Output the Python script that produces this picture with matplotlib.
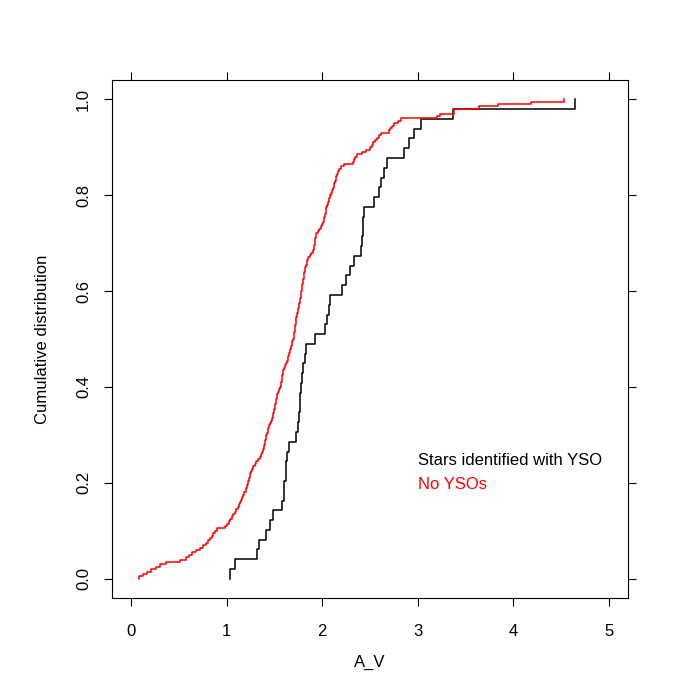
import matplotlib
matplotlib.use('Agg')
import matplotlib.pyplot as plt
import numpy as np

plt.rcParams['font.family'] = ['Liberation Sans', 'DejaVu Sans']

# sorted A_V values, stars identified with a YSO
yso_av = [1.03, 1.09, 1.32, 1.34, 1.41, 1.45, 1.48, 1.58, 1.60, 1.60,
          1.62, 1.62, 1.63, 1.65, 1.73, 1.75, 1.76, 1.77, 1.77, 1.78,
          1.79, 1.80, 1.82, 1.83, 1.92, 2.03, 2.05, 2.07, 2.08, 2.21,
          2.25, 2.29, 2.33, 2.41, 2.42, 2.43, 2.43, 2.44, 2.54, 2.59,
          2.62, 2.65, 2.675, 2.86, 2.91, 2.96, 3.03, 3.37, 4.65]

# sorted A_V values, no YSOs
noyso_av = [0.08, 0.12, 0.17, 0.21, 0.26, 0.30, 0.36, 0.51, 0.57, 0.61,
            0.64, 0.68, 0.72, 0.755, 0.78, 0.80, 0.83, 0.845, 0.86, 0.88,
            0.90, 0.985, 1.00, 1.02, 1.04, 1.06, 1.07, 1.09, 1.10, 1.115,
            1.13, 1.14, 1.15, 1.16, 1.175, 1.185, 1.20, 1.205, 1.21, 1.22,
            1.225, 1.23, 1.24, 1.245, 1.255, 1.27, 1.28, 1.295, 1.31, 1.33,
            1.35, 1.36, 1.375, 1.385, 1.39, 1.395, 1.40, 1.405, 1.41, 1.415,
            1.42, 1.43, 1.435, 1.44, 1.45, 1.46, 1.47, 1.48, 1.49, 1.495,
            1.50, 1.505, 1.51, 1.515, 1.52, 1.525, 1.53, 1.54, 1.55, 1.56,
            1.565, 1.57, 1.575, 1.58, 1.58, 1.585, 1.59, 1.60, 1.61, 1.62,
            1.63, 1.64, 1.645, 1.65, 1.66, 1.665, 1.67, 1.68, 1.685, 1.69,
            1.70, 1.705, 1.71, 1.715, 1.72, 1.72, 1.725, 1.73, 1.73, 1.735,
            1.74, 1.745, 1.75, 1.755, 1.76, 1.765, 1.77, 1.775, 1.775, 1.78,
            1.785, 1.785, 1.79, 1.795, 1.80, 1.805, 1.81, 1.81, 1.815, 1.82,
            1.83, 1.84, 1.845, 1.855, 1.87, 1.885, 1.90, 1.91, 1.915, 1.92,
            1.925, 1.93, 1.935, 1.94, 1.955, 1.97, 1.985, 1.995, 2.005, 2.015,
            2.02, 2.03, 2.035, 2.04, 2.045, 2.055, 2.06, 2.07, 2.075, 2.085,
            2.09, 2.10, 2.11, 2.12, 2.125, 2.13, 2.14, 2.145, 2.155, 2.17,
            2.18, 2.20, 2.225, 2.325, 2.335, 2.345, 2.36, 2.415, 2.46, 2.50,
            2.52, 2.535, 2.55, 2.57, 2.59, 2.615, 2.695, 2.71, 2.73, 2.755,
            2.79, 2.83, 3.20, 3.23, 3.38, 3.38, 3.64, 3.84, 4.19, 4.53]

labels = ['Stars identified with YSO', 'No YSOs']
colors = ['black', 'red']


def ecdf_steps(vals):
    xs = np.sort(np.asarray(vals))
    n = len(xs)
    x = np.concatenate([[xs[0]], xs])
    y = np.concatenate([[0.0], np.arange(1, n + 1) / n])
    return x, y


fig = plt.figure(figsize=(7, 7), dpi=100)
ax = fig.add_axes([0.16, 0.1457, 0.737, 0.74])

for vals, col in zip([yso_av, noyso_av], colors):
    x, y = ecdf_steps(vals)
    ax.plot(x, y, drawstyle='steps-post', color=col, lw=1.1)

ax.set_xlim(-0.2, 5.2)
ax.set_ylim(-0.04, 1.04)
ax.set_xticks([0, 1, 2, 3, 4, 5])
ax.set_yticks([0.0, 0.2, 0.4, 0.6, 0.8, 1.0])
ax.set_yticklabels(['0.0', '0.2', '0.4', '0.6', '0.8', '1.0'], rotation=90, va='center')
ax.tick_params(direction='out', length=6, width=0.8, top=True, right=True,
               labelsize=12)
ax.tick_params(axis='x', pad=13)
ax.tick_params(axis='y', pad=9)
for sp in ax.spines.values():
    sp.set_linewidth(0.8)

ax.set_xlabel('A_V', fontsize=12, labelpad=11)
ax.set_ylabel('Cumulative distribution', fontsize=12, labelpad=19)

ax.text(0.593, 0.2645, labels[0], color=colors[0], transform=ax.transAxes,
        fontsize=12, va='center', ha='left')
ax.text(0.593, 0.220, labels[1], color=colors[1], transform=ax.transAxes,
        fontsize=12, va='center', ha='left')

fig.savefig('out.png', dpi=100)
